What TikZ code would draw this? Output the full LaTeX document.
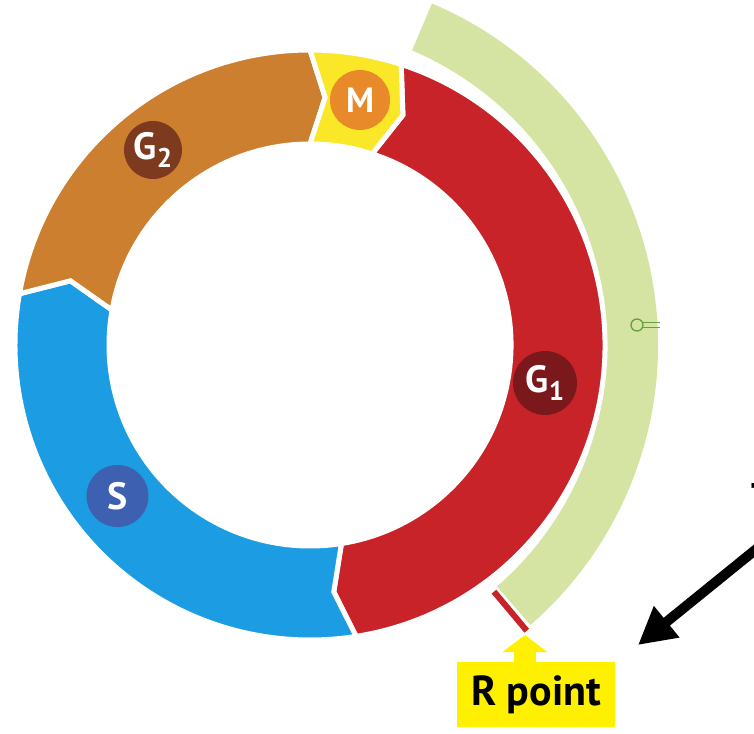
\documentclass[tikz,border=0pt]{standalone}
\usepackage{fontspec}
\setmainfont{PT Sans}
\usetikzlibrary{arrows.meta}
\definecolor{g2band}{RGB}{205,127,48}
\definecolor{g2dot}{RGB}{125,58,30}
\definecolor{mband}{RGB}{250,232,40}
\definecolor{mdot}{RGB}{232,137,42}
\definecolor{g1band}{RGB}{200,35,40}
\definecolor{g1dot}{RGB}{122,24,28}
\definecolor{sband}{RGB}{28,156,226}
\definecolor{sdot}{RGB}{62,96,176}
\definecolor{greenband}{RGB}{213,228,162}
\definecolor{keyc}{RGB}{100,160,60}
\definecolor{rbox}{RGB}{255,240,0}
\newcommand{\cycseg}[4]{(#1:295) arc[start angle=#1, end angle=#3, radius=295] -- (#4:248) -- (#3:201) arc[start angle=#3, end angle=#1, radius=201] -- (#2:248) -- cycle}
\newcommand{\lblsub}[1]{\raisebox{-8pt}{\fontsize{27}{27}\selectfont #1}}
\begin{document}
\begin{tikzpicture}[x=1pt,y=1pt,
  seg/.style={draw=white, line width=5pt, line join=miter},
  dot/.style={circle, inner sep=0pt, minimum size=62pt, text=white, font=\bfseries\fontsize{38}{38}\selectfont},
  boxlbl/.style={fill=rbox, minimum width=158pt, minimum height=65pt, inner sep=0pt, font=\bfseries\fontsize{42}{42}\selectfont},
  bigarrow/.style={line width=10pt, -{Triangle[length=37pt,width=38pt]}},
  smallarrow/.style={rbox, line width=22pt, -{Triangle[length=17pt,width=44pt]}}]
\useasboundingbox (-310,-388) rectangle (444,345);
% green arc (own centre)
\begin{scope}[shift={(-23,0)}]
  \fill[greenband] (-49:320) arc[start angle=-49, end angle=67, radius=320] -- (67:371) arc[start angle=67, end angle=-49, radius=371] -- cycle;
  \draw[g1band, line width=6pt] (-50:322) -- (-50:373);
  \coordinate (rmark) at (-50:373);
\end{scope}
% key symbol
\draw[keyc, line width=1.3pt] (327,20) circle[radius=6];
\draw[keyc, line width=1.3pt] (333,22.3) -- (350,22.3) (333,17.7) -- (350,17.7);
% ring segments
\fill[g1band, seg] \cycseg{-81}{-84.5}{72}{68};
\fill[sband, seg] \cycseg{170}{165}{279}{275.5};
\fill[g2band, seg] \cycseg{90}{86.5}{170}{165};
\fill[mband, seg] \cycseg{72}{68}{90}{86.5};
% phase labels
\node[dot, fill=g2dot, minimum size=58pt] (g2) at (-157,195) {G\lblsub{2}};
\node[dot, fill=mdot, minimum size=60pt, font=\bfseries\fontsize{35}{35}\selectfont] (m) at (50,245) {M};
\node[dot, fill=g1dot, minimum size=64pt] (g1) at (235,-38) {G\lblsub{1}};
\node[dot, fill=sdot] (s) at (-192.5,-151) {S};
% R point
\node[boxlbl] (rp) at (226,-349.5) {R point};
\coordinate (rtip) at (215,-290);
\draw[smallarrow] (rtip |- rp.north) -- (rtip);
% black arrow
\coordinate (bstart) at (460,-193);
\coordinate (btip) at (328,-300);
\draw[bigarrow] (bstart) -- (btip);
% cut-off text at right edge
\node[anchor=base west, inner sep=0pt, font=\bfseries\fontsize{44}{44}\selectfont] (cut) at (441,-160) {f};
\end{tikzpicture}
\end{document}
